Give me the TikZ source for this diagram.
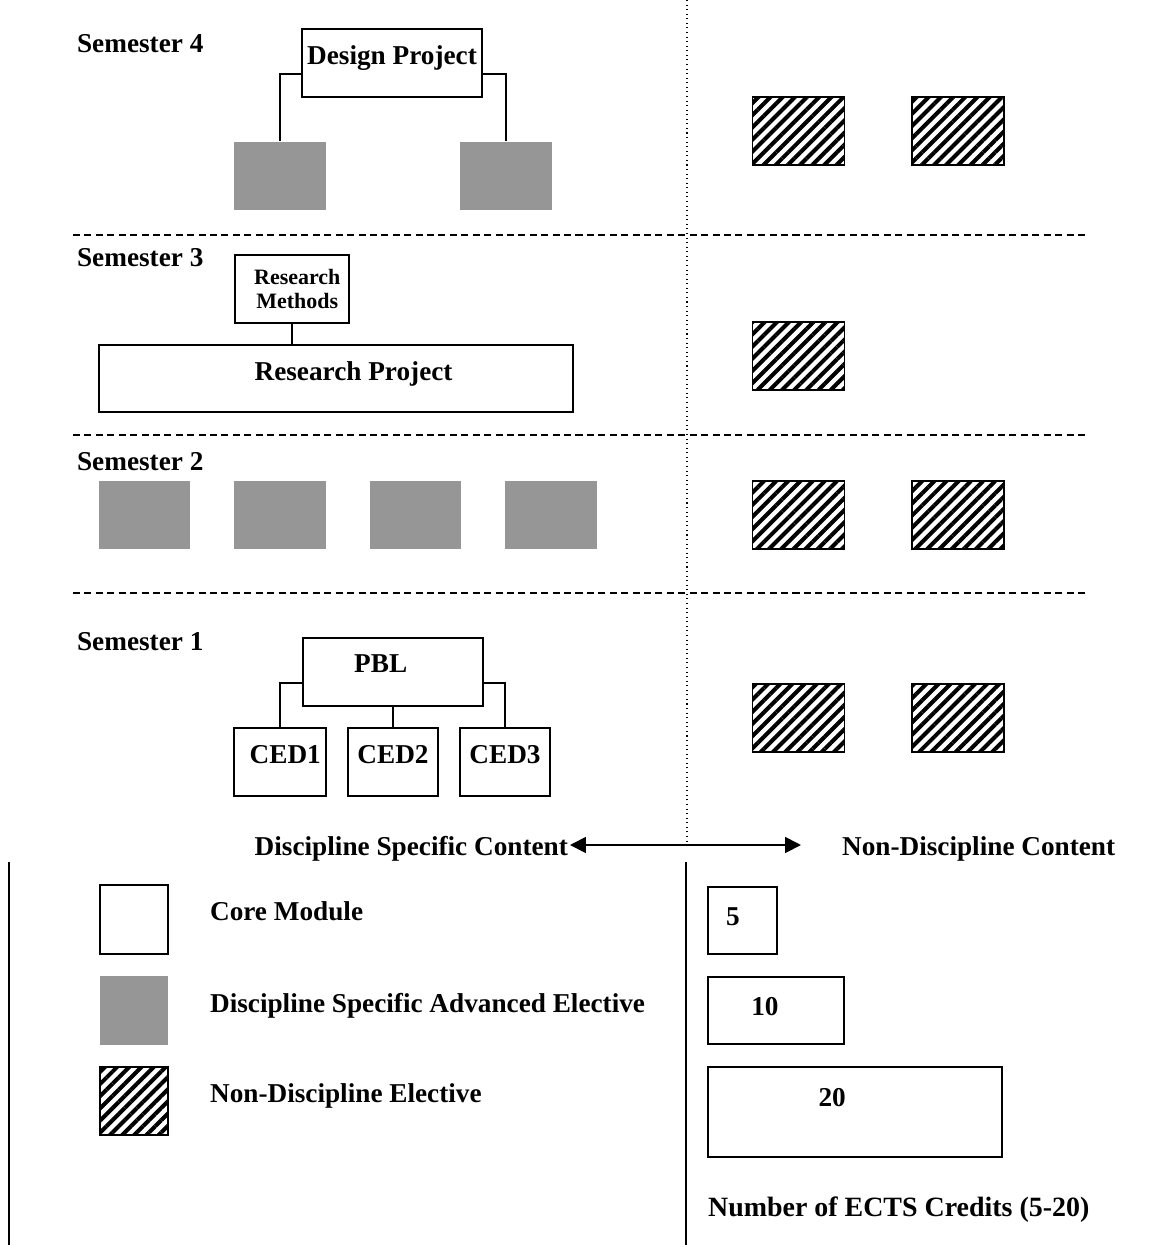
\documentclass[tikz,border=0pt]{standalone}
\usepackage{fontspec}
\setmainfont{Liberation Serif}
\usepackage{tikz}
\usetikzlibrary{positioning, arrows.meta, patterns.meta}
\definecolor{advgray}{RGB}{150,150,150}
\begin{document}
\begin{tikzpicture}[x=0.02cm, y=-0.02cm, font=\bfseries\fontsize{15.5}{18}\selectfont,
    core/.style={draw, line width=1pt, fill=white, inner sep=0pt},
    adv/.style={fill=advgray, inner sep=0pt, minimum width=1.84cm, minimum height=1.36cm},
    nde/.style={draw, line width=1pt, inner sep=0pt, minimum width=1.84cm, minimum height=1.36cm,
        pattern={Lines[angle=45, distance=4.9pt, line width=2.3pt]}},
    link/.style={line width=1pt},
    sep/.style={dash pattern=on 4pt off 2.5pt, line width=0.8pt},
    txt/.style={inner sep=1pt}]
      \useasboundingbox (0,0) rectangle (1159,1245);

      % Semester rows split by dashed lines, columns by the dotted line
      \coordinate (vtop) at (687,0);
      \coordinate (vbot) at (687,848);
      \draw[dotted, line width=0.6pt] (vtop) -- (vbot);
      \draw[sep] (73,235) -- (1088,235);
      \draw[sep] (73,435) -- (1088,435);
      \draw[sep] (73,593) -- (1088,593);

      \node[txt, anchor=base west] at (75,52) (sem4) {Semester 4};
      \node[txt, anchor=base west] at (75,266) (sem3) {Semester 3};
      \node[txt, anchor=base west] at (75,470) (sem2) {Semester 2};
      \node[txt, anchor=base west] at (75,650) (sem1) {Semester 1};

      % Semester 4
      \node[core, minimum width=3.6cm, minimum height=1.36cm, label={[yshift=2.8pt]center:Design Project}] at (392,63) (dp) {};
      \node[adv] at (280,175.5) (dpl) {};
      \node[adv] at (506,175.5) (dpr) {};
      \node[nde] at (798.5,131) (nd4a) {};
      \node[nde] at (958,131) (nd4b) {};
      \draw[link] ([yshift=-0.22cm]dp.west) -| (dpl.north);
      \draw[link] ([yshift=-0.22cm]dp.east) -| (dpr.north);

      % Semester 3
      \node[core, minimum width=2.28cm, minimum height=1.36cm, label={[xshift=3pt, align=center, font=\bfseries\fontsize{12.5}{14.2}\selectfont]center:Research\\Methods}] at (292,289) (rm) {};
      \node[core, minimum width=9.48cm, minimum height=1.34cm, label={[xshift=10pt, yshift=2.5pt]center:Research Project}] at (336,378.5) (rp) {};
      \node[nde] at (798.5,356) (nd3) {};
      \draw[link] (rm.south) -- (rm.south |- rp.north);

      % Semester 2
      \node[adv] at (144.5,515) (adv1) {};
      \node[adv] at (280,515) (adv2) {};
      \node[adv] at (415.5,515) (adv3) {};
      \node[adv] at (551,515) (adv4) {};
      \node[nde] at (798.5,515) (nd2a) {};
      \node[nde] at (958,515) (nd2b) {};

      % Semester 1
      \node[core, minimum width=3.6cm, minimum height=1.36cm, label={[xshift=-7pt, yshift=5pt]center:PBL}] at (393,672) (pbl) {};
      \node[core, minimum width=1.84cm, minimum height=1.36cm, label={[xshift=3pt, yshift=4pt]center:CED1}] at (280,762) (ced1) {};
      \node[core, minimum width=1.8cm, minimum height=1.36cm, label={[yshift=4pt]center:CED2}] at (393,762) (ced2) {};
      \node[core, minimum width=1.8cm, minimum height=1.36cm, label={[yshift=4pt]center:CED3}] at (505,762) (ced3) {};
      \node[nde] at (798.5,718) (nd1a) {};
      \node[nde] at (958,718) (nd1b) {};
      \draw[link] ([yshift=-0.22cm]pbl.west) -| (ced1.north);
      \draw[link] (pbl.south) -- (ced2.north);
      \draw[link] ([yshift=-0.22cm]pbl.east) -| (ced3.north);

      % Content axis
      \node[txt, anchor=base east] at (570,855) (dsc) {Discipline Specific Content};
      \node[txt, anchor=base west] at (840,855) (ndc) {Non-Discipline Content};
      \coordinate (arrend) at (801,845);
      \draw[line width=1pt, {Triangle[width=9pt, length=9pt]}-{Triangle[width=9pt, length=9pt]}] (dsc.east |- arrend) -- (arrend);

      % Key
      \coordinate (ltop) at (9,862);
      \coordinate (lbot) at (9,1245);
      \coordinate (rtop) at (686,862);
      \coordinate (rbot) at (686,1245);
      \draw[line width=1pt] (ltop) -- (lbot);
      \draw[line width=1pt] (rtop) -- (rbot);

      \node[core, minimum width=1.36cm, minimum height=1.38cm] at (134,919.5) (keycore) {};
      \node[adv, minimum width=1.36cm, minimum height=1.38cm] at (134,1010.5) (keyadv) {};
      \node[nde, minimum width=1.36cm, minimum height=1.36cm] at (134,1101) (keynde) {};
      \node[txt, anchor=base west] at (208,920) (keycoretxt) {Core Module};
      \node[txt, anchor=base west] at (208,1012) (keyadvtxt) {Discipline Specific Advanced Elective};
      \node[txt, anchor=base west] at (208,1102) (keyndetxt) {Non-Discipline Elective};

      \node[core, minimum width=1.38cm, minimum height=1.34cm, label={[xshift=-5.4pt, yshift=2pt]center:5}] at (742.5,920.5) (cr5) {};
      \node[core, minimum width=2.72cm, minimum height=1.34cm, label={[xshift=-6.3pt, yshift=2pt]center:10}] at (776,1010.5) (cr10) {};
      \node[core, minimum width=5.88cm, minimum height=1.8cm, label={[xshift=-13pt, yshift=8.5pt]center:20}] at (855,1112) (cr20) {};
      \node[txt, anchor=base west, font=\bfseries\fontsize{15.9}{19}\selectfont] at (706,1216) (ects) {Number of ECTS Credits (5-20)};
    \end{tikzpicture}
\end{document}
